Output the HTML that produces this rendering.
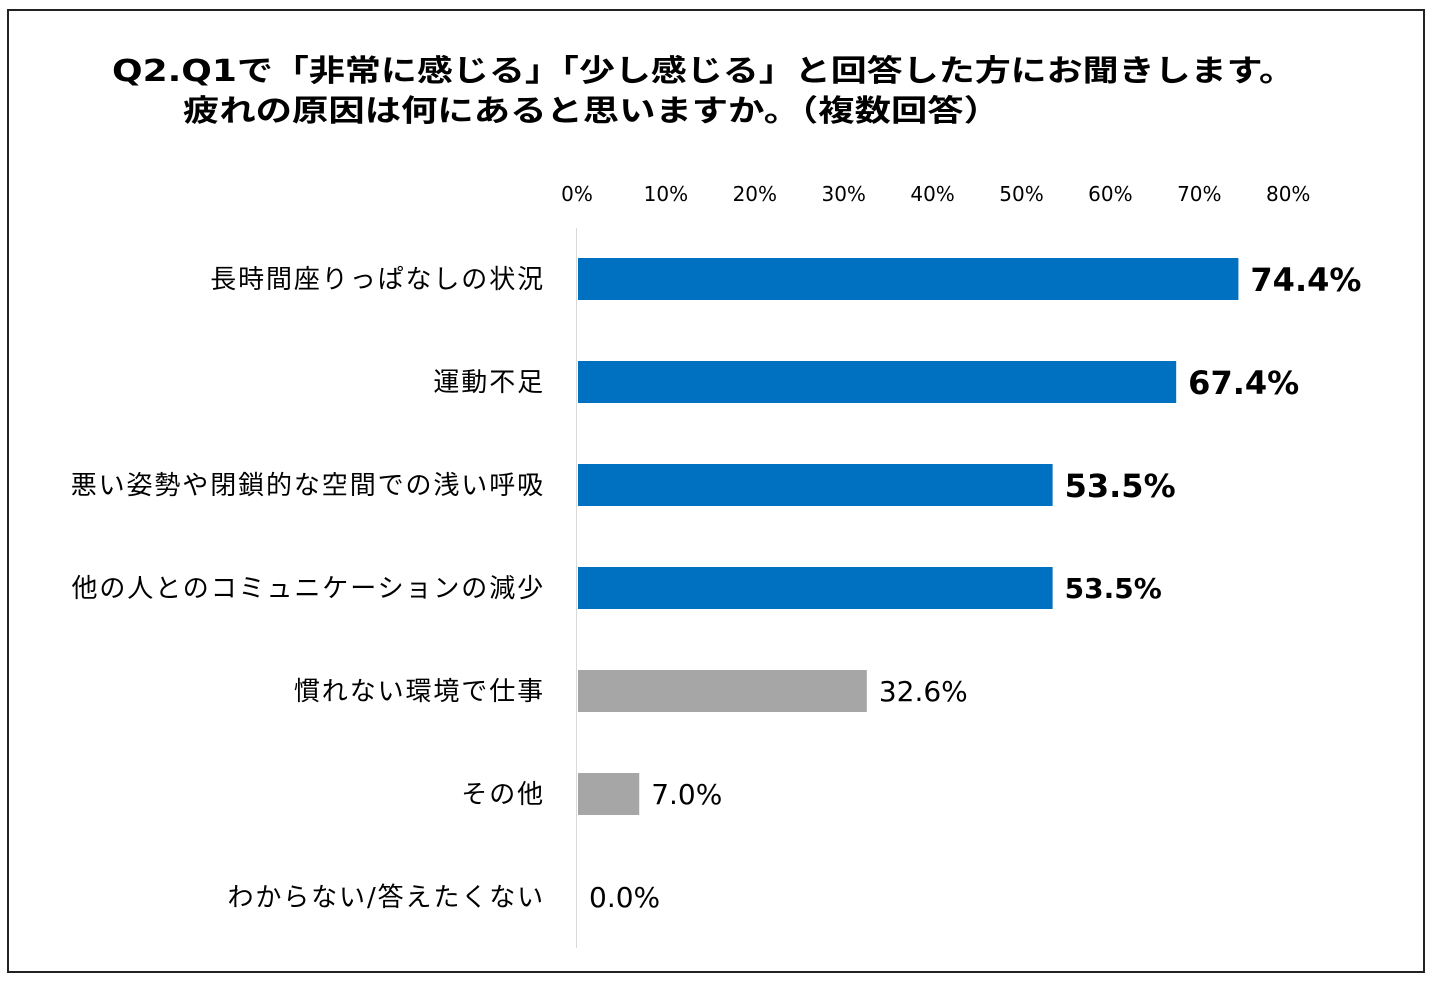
<!DOCTYPE html>
<html><head><meta charset="utf-8">
<style>
html,body{margin:0;padding:0;background:#fff;}
body{width:1434px;height:982px;position:relative;overflow:hidden;font-family:"DejaVu Sans","Noto Sans CJK JP",sans-serif;}
#frame{position:absolute;left:7px;top:9px;width:1418px;height:964px;border:2px solid #222;box-sizing:border-box;}
</style></head>
<body>
<div id="frame"></div>
<svg id="chart" width="1434" height="982" style="position:absolute;left:0;top:0;">
<text x="112" y="81" font-size="30" font-weight="bold" textLength="1183" lengthAdjust="spacingAndGlyphs">Q2.Q1で「非常に感じる」「少し感じる」と回答した方にお聞きします。</text>
<text x="183" y="121" font-size="30" font-weight="bold" textLength="817" lengthAdjust="spacingAndGlyphs">疲れの原因は何にあると思いますか。（複数回答）</text>
</svg>
<script>
const categories = ["長時間座りっぱなしの状況","運動不足","悪い姿勢や閉鎖的な空間での浅い呼吸","他の人とのコミュニケーションの減少","慣れない環境で仕事","その他","わからない/答えたくない"];
const values = [74.4, 67.4, 53.5, 53.5, 32.6, 7.0, 0.0];
const ticks = [0,10,20,30,40,50,60,70,80];
const valueLabels = ["74.4%","67.4%","53.5%","53.5%","32.6%","7.0%","0.0%"];

const NS="http://www.w3.org/2000/svg";
const svg=document.getElementById('chart');
const x0=577, pxPer=8.89;
function x(v){return x0+v*pxPer;}
const rowTop=258, rowStep=103, barH=42;
function y(i){return rowTop+i*rowStep;}
function mk(t,a){const e=document.createElementNS(NS,t);for(const k in a)e.setAttribute(k,a[k]);svg.appendChild(e);return e;}

const axis=mk('line',{x1:576.5,x2:576.5,y1:228,y2:948,stroke:'#d9d9d9','stroke-width':1});



ticks.forEach(t=>{
  const tx=mk('text',{x:x(t),y:201,'text-anchor':'middle','font-size':20,fill:'#000'});
  tx.textContent=t+'%';
  
  
});

categories.forEach((c,i)=>{
  const cy=y(i)+barH/2;
  const lab=mk('text',{x:545,y:cy+9,'text-anchor':'end','font-size':26,fill:'#000','letter-spacing':'1.9'});
  lab.textContent=c;
  
  
  const w=x(values[i])-x(0);
  const bar=mk('rect',{x:x(0)+1,y:y(i),width:Math.max(0,w-1),height:barH,fill:i<4?'#0070C0':'#A6A6A6'});
  
  
  const bold=i<4, big=i<3;
  const vl=mk('text',{x:x(values[i])+12,y:cy+(big?12:10),'font-size':big?32:28,'font-weight':bold?'bold':'normal',fill:'#000'});
  vl.textContent=valueLabels[i];
  
  
});
</script>
</body></html>
